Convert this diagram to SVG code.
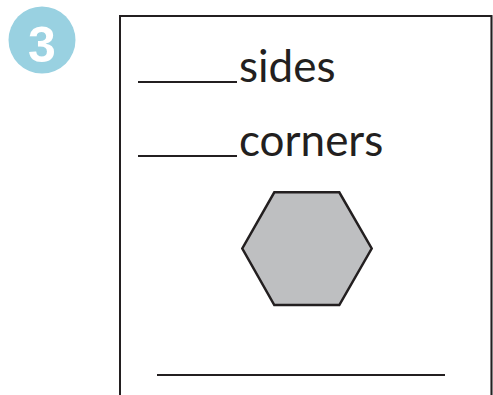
<svg xmlns="http://www.w3.org/2000/svg" width="493" height="395" viewBox="0 0 493 395">
<style>
.ln{stroke:#231f20;stroke-width:2;fill:none}
.lbl{font-family:Lato,"Liberation Sans",sans-serif;font-size:44px;fill:#231f20}
</style>
<rect width="493" height="395" fill="#ffffff"/>
<g id="badge">
<circle cx="42" cy="40" r="33.5" fill="#99d1e1"/>
<text x="42" y="62" text-anchor="middle" font-family="'Liberation Sans',Arial,sans-serif" font-weight="bold" font-size="50" fill="#ffffff">3</text>
</g>
<g id="card">
<path class="ln" d="M120 395 V16 H491.5 V395"/>
<path d="M491.5 16 V395" stroke="#231f20" stroke-width="1.2" fill="none"/>
</g>
<g id="sides">
<line class="ln" x1="138" y1="82" x2="237" y2="82"/>
<text class="lbl" x="239" y="82">sides</text>
</g>
<g id="corners">
<line class="ln" x1="138" y1="156" x2="237" y2="156"/>
<text class="lbl" x="239" y="156">corners</text>
</g>
<g id="hexagon">
<polygon points="274.3,192.3 339.3,192.3 371.7,248.5 339.3,305 274.3,305 242.3,248.5" fill="#bebfc1" stroke="#231f20" stroke-width="2.5" stroke-linejoin="miter"/>
</g>
<g id="answer">
<line class="ln" x1="157" y1="375" x2="445" y2="375"/>
</g>
<g id="connectors"></g>
</svg>
